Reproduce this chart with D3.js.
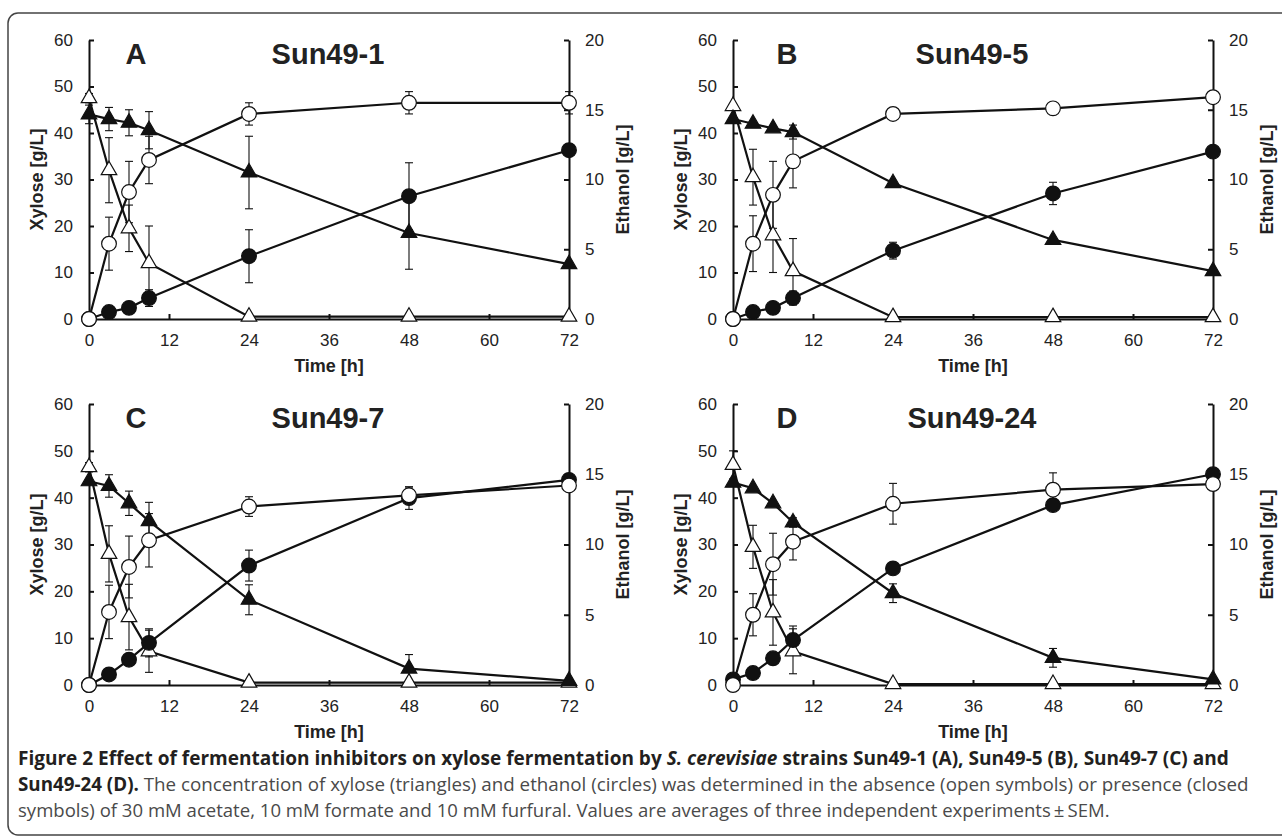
<!DOCTYPE html>
<html>
<head>
<meta charset="utf-8">
<script src="https://cdn.jsdelivr.net/npm/d3@7"></script>
<style>
  body { margin: 0; background: #fff; }
  svg { display: block; }
  .axis path, .axis line { stroke: #111; }
  .axis text { font-family: "Liberation Sans", Arial, sans-serif; font-size: 17px; fill: #222; }
</style>
</head>
<body>
<svg id="chart" width="1282" height="838"></svg>
<script>
// ---- data ----
const times = [0, 3, 6, 9, 24, 48, 72];
const panelLetters = ["A", "B", "C", "D"];
const strainNames = ["Sun49-1", "Sun49-5", "Sun49-7", "Sun49-24"];
const timeTicks = [0, 12, 24, 36, 48, 60, 72];
const xyloseTicks = [0, 10, 20, 30, 40, 50, 60];
const ethanolTicks = [0, 5, 10, 15, 20];

// xylose / ethanol [g/L], open = no inhibitors, closed = with inhibitors
const xylOpenA   = [47.5, 32, 19.5, 12, 0.5, 0.5, 0.5];
const xylOpenSemA = [1, 7, 5, 8, 0, 0, 0];
const xylClosedA = [44, 43, 42.2, 40.6, 31.5, 18.5, 11.8];
const xylClosedSemA = [2, 2.5, 2.8, 4, 7.8, 7.8, 0];
const ethOpenA   = [0, 5.4, 9.1, 11.4, 14.7, 15.5, 15.5];
const ethOpenSemA = [0, 1.9, 2.2, 1.7, 0.8, 0.8, 0.8];
const ethClosedA = [0, 0.5, 0.8, 1.5, 4.5, 8.8, 12.1];
const ethClosedSemA = [0, 0, 0, 0.6, 1.9, 2.4, 0];

const xylOpenB   = [45.8, 30.5, 18, 10.3, 0.4, 0.4, 0.4];
const xylOpenSemB = [0, 6, 8, 7, 0, 0, 0];
const xylClosedB = [43, 42, 41, 40.2, 29.2, 17, 10.3];
const xylClosedSemB = [0, 0, 0, 1.5, 0, 0, 0];
const ethOpenB   = [0, 5.4, 8.9, 11.3, 14.7, 15.1, 15.9];
const ethOpenSemB = [0, 2, 2.4, 1.9, 0, 0, 0];
const ethClosedB = [0, 0.5, 0.8, 1.5, 4.9, 9.0, 12.0];
const ethClosedSemB = [0, 0, 0, 0.5, 0.6, 0.8, 0];

const xylOpenC   = [46.5, 28, 14.5, 7.2, 0.5, 0.5, 0.5];
const xylOpenSemC = [1, 6, 7, 4.5, 0, 0, 0];
const xylClosedC = [43.5, 42.5, 38.8, 35, 18.2, 3.5, 0.9];
const xylClosedSemC = [0, 2.4, 2.6, 4, 3.2, 3, 0];
const ethOpenC   = [0, 5.2, 8.4, 10.3, 12.7, 13.5, 14.2];
const ethOpenSemC = [0, 1.9, 2.2, 1.9, 0.7, 0.6, 0];
const ethClosedC = [0, 0.75, 1.8, 3.0, 8.5, 13.3, 14.6];
const ethClosedSemC = [0, 0, 0, 1.0, 1.1, 0.8, 0.4];

const xylOpenD   = [47, 29.5, 15.5, 7.2, 0.2, 0.2, 0.2];
const xylOpenSemD = [3, 4.6, 7, 4.8, 0, 0, 0];
const xylClosedD = [43.2, 42, 38.8, 34.7, 19.6, 5.8, 1.2];
const xylClosedSemD = [0, 0, 0, 1, 2, 2, 0];
const ethOpenD   = [0, 5.0, 8.6, 10.2, 12.9, 13.9, 14.3];
const ethOpenSemD = [0, 1.5, 2.2, 1.3, 1.45, 1.2, 0];
const ethClosedD = [0.4, 0.85, 1.9, 3.2, 8.3, 12.8, 15.0];
const ethClosedSemD = [0, 0, 0, 1.0, 0, 0, 0.3];

const captionBold1 = "Figure 2 Effect of fermentation inhibitors on xylose fermentation by ";
const captionItalic = "S. cerevisiae";
const captionBold2 = " strains Sun49-1 (A), Sun49-5 (B), Sun49-7 (C) and";
const captionBold3 = "Sun49-24 (D).";
const captionText2 = " The concentration of xylose (triangles) and ethanol (circles) was determined in the absence (open symbols) or presence (closed";
const captionText3 = "symbols) of 30 mM acetate, 10 mM formate and 10 mM furfural. Values are averages of three independent experiments\u2009\u00b1\u2009SEM.";

const panelData = [
  { xo: xylOpenA, xoS: xylOpenSemA, xc: xylClosedA, xcS: xylClosedSemA, eo: ethOpenA, eoS: ethOpenSemA, ec: ethClosedA, ecS: ethClosedSemA },
  { xo: xylOpenB, xoS: xylOpenSemB, xc: xylClosedB, xcS: xylClosedSemB, eo: ethOpenB, eoS: ethOpenSemB, ec: ethClosedB, ecS: ethClosedSemB },
  { xo: xylOpenC, xoS: xylOpenSemC, xc: xylClosedC, xcS: xylClosedSemC, eo: ethOpenC, eoS: ethOpenSemC, ec: ethClosedC, ecS: ethClosedSemC },
  { xo: xylOpenD, xoS: xylOpenSemD, xc: xylClosedD, xcS: xylClosedSemD, eo: ethOpenD, eoS: ethOpenSemD, ec: ethClosedD, ecS: ethClosedSemD }
];

// ---- layout ----
const PLOT_W = 480;
const origins = [
  { left: 89,  top: 40,  bottom: 319 },
  { left: 733, top: 40,  bottom: 319 },
  { left: 89,  top: 404, bottom: 685 },
  { left: 733, top: 404, bottom: 685 }
];
const INK = "#111";

const svg = d3.select("#chart");

// frame
svg.append("rect")
  .attr("x", 8).attr("y", 13)
  .attr("width", 1300).attr("height", 822)
  .attr("rx", 10)
  .attr("fill", "none")
  .attr("stroke", "#444")
  .attr("stroke-width", 1.5);

panelLetters.forEach((letter, i) => drawPanel(i));

function drawPanel(i) {
  const o = origins[i];
  const d = panelData[i];
  const g = svg.append("g");

  const x = d3.scaleLinear().domain([0, 72]).range([o.left, o.left + PLOT_W]);
  const yL = d3.scaleLinear().domain([0, 60]).range([o.bottom, o.top]);
  const yR = d3.scaleLinear().domain([0, 20]).range([o.bottom, o.top]);

  // axes
  g.append("g").attr("class", "axis")
    .attr("transform", `translate(${o.left},0)`)
    .call(d3.axisLeft(yL).tickValues(xyloseTicks).tickSizeInner(-5).tickSizeOuter(0).tickPadding(16))
    .call(a => a.selectAll("path, line").attr("stroke-width", 2));

  g.append("g").attr("class", "axis")
    .attr("transform", `translate(${o.left + PLOT_W},0)`)
    .call(d3.axisRight(yR).tickValues(ethanolTicks).tickSizeInner(-5).tickSizeOuter(0).tickPadding(16))
    .call(a => a.selectAll("path, line").attr("stroke-width", 2));

  g.append("g").attr("class", "axis")
    .attr("transform", `translate(0,${o.bottom})`)
    .call(d3.axisBottom(x).tickValues(timeTicks).tickSizeInner(-5).tickSizeOuter(0).tickPadding(15))
    .call(a => a.selectAll("path, line").attr("stroke-width", 2));

  // axis titles
  const midY = (o.top + o.bottom) / 2;
  g.append("text")
    .attr("transform", `translate(${o.left - 52},${midY}) rotate(-90)`)
    .attr("text-anchor", "middle").attr("dy", "0.35em")
    .style("font", "bold 18px 'Liberation Sans', Arial, sans-serif")
    .attr("fill", "#222")
    .text("Xylose [g/L]");
  g.append("text")
    .attr("transform", `translate(${o.left + PLOT_W + 54},${midY}) rotate(-90)`)
    .attr("text-anchor", "middle").attr("dy", "0.35em")
    .style("font", "bold 18px 'Liberation Sans', Arial, sans-serif")
    .attr("fill", "#222")
    .text("Ethanol [g/L]");
  g.append("text")
    .attr("x", o.left + PLOT_W / 2).attr("y", o.bottom + 47)
    .attr("text-anchor", "middle").attr("dy", "0.35em")
    .style("font", "bold 18px 'Liberation Sans', Arial, sans-serif")
    .attr("fill", "#222")
    .text("Time [h]");

  // panel titles
  g.append("text")
    .attr("x", o.left + (i % 2 === 0 ? 47 : 54)).attr("y", o.top + 24)
    .attr("text-anchor", "middle")
    .style("font", "bold 29px 'Liberation Sans', Arial, sans-serif")
    .attr("fill", "#222")
    .text(panelLetters[i]);
  g.append("text")
    .attr("x", o.left + 239).attr("y", o.top + 24)
    .attr("text-anchor", "middle")
    .style("font", "bold 29px 'Liberation Sans', Arial, sans-serif")
    .attr("fill", "#222")
    .text(strainNames[i]);

  const series = [
    { vals: d.xo, sem: d.xoS, y: yL, shape: d3.symbolTriangle, size: 105, fill: "#fff" },
    { vals: d.xc, sem: d.xcS, y: yL, shape: d3.symbolTriangle, size: 105, fill: INK },
    { vals: d.ec, sem: d.ecS, y: yR, shape: d3.symbolCircle, size: 170, fill: INK },
    { vals: d.eo, sem: d.eoS, y: yR, shape: d3.symbolCircle, size: 170, fill: "#fff" }
  ];

  // lines
  series.forEach(s => {
    const pts = times.map((t, k) => ({ t: t, v: s.vals[k] }));
    g.append("path")
      .datum(pts)
      .attr("fill", "none")
      .attr("stroke", INK)
      .attr("stroke-width", 2.2)
      .attr("d", d3.line().x(p => x(p.t)).y(p => s.y(p.v)));
  });

  // error bars
  series.forEach(s => {
    times.forEach((t, k) => {
      const e = s.sem[k];
      if (!e) return;
      const cx = x(t);
      const y1 = s.y(s.vals[k] - e), y2 = s.y(s.vals[k] + e);
      const eb = g.append("g").attr("stroke", INK).attr("stroke-width", 1.1);
      eb.append("line").attr("x1", cx).attr("x2", cx).attr("y1", y1).attr("y2", y2);
      eb.append("line").attr("x1", cx - 4).attr("x2", cx + 4).attr("y1", y1).attr("y2", y1);
      eb.append("line").attr("x1", cx - 4).attr("x2", cx + 4).attr("y1", y2).attr("y2", y2);
    });
  });

  // markers
  series.forEach(s => {
    g.append("g").selectAll("path")
      .data(times.map((t, k) => ({ t: t, v: s.vals[k] })))
      .join("path")
      .attr("transform", p => `translate(${x(p.t)},${s.y(p.v)})`)
      .attr("d", d3.symbol(s.shape, s.size))
      .attr("fill", s.fill)
      .attr("stroke", INK)
      .attr("stroke-width", 1.2);
  });
}

// ---- caption ----
const capFont = "'Open Sans', 'Noto Sans', sans-serif";
const cap = svg.append("g");

function captionLine(y, parts, target) {
  const t = cap.append("text")
    .attr("x", 0).attr("y", 0)
    .style("font-family", capFont)
    .style("font-size", "19px");
  parts.forEach(p => {
    t.append("tspan")
      .attr("font-weight", p.bold ? "bold" : "normal")
      .attr("font-style", p.italic ? "italic" : "normal")
      .attr("fill", p.bold ? "#231f20" : "#4a4a4a")
      .text(p.s);
  });
  const natural = t.node().getComputedTextLength();
  t.attr("transform", `translate(18,${y}) scale(${target / natural},1)`);
}

captionLine(765, [
  { s: captionBold1, bold: true },
  { s: captionItalic, bold: true, italic: true },
  { s: captionBold2, bold: true }
], 1230 - 18);
captionLine(791, [
  { s: captionBold3, bold: true },
  { s: captionText2 }
], 1250 - 18);
captionLine(817, [{ s: captionText3 }], 1111 - 18);
</script>
</body>
</html>
